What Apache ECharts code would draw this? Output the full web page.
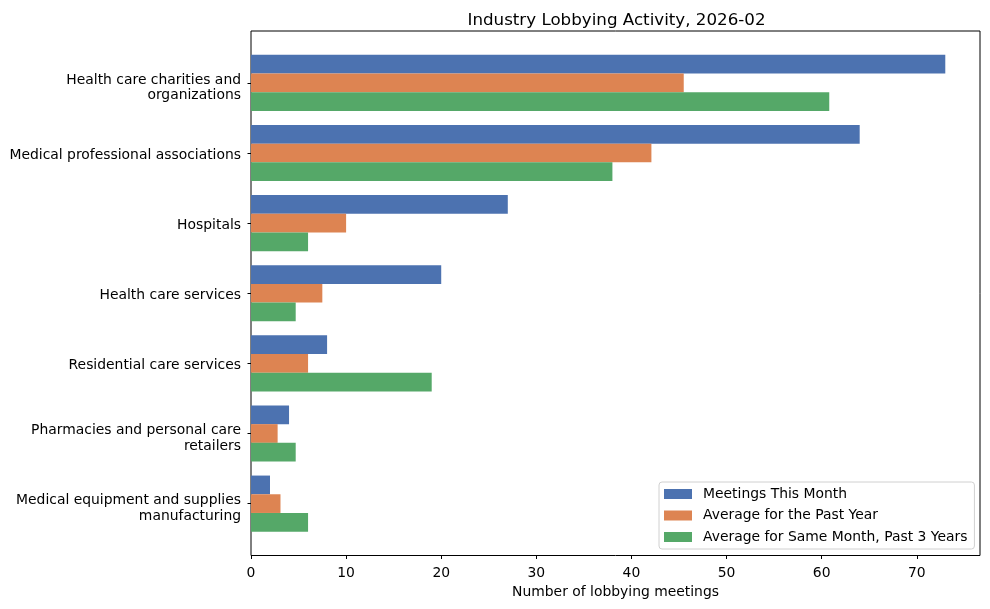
<!DOCTYPE html>
<html>
<head>
<meta charset="utf-8">
<script src="https://cdn.jsdelivr.net/npm/echarts@6/dist/echarts.min.js"></script>
<style>html,body{margin:0;padding:0;background:#fff}#c{width:990px;height:609px}</style>
</head>
<body>
<div id="c"></div>
<script>
const categories = [
  "Health care charities and\norganizations",
  "Medical professional associations",
  "Hospitals",
  "Health care services",
  "Residential care services",
  "Pharmacies and personal care\nretailers",
  "Medical equipment and supplies\nmanufacturing"
];
const meetingsThisMonth = [73, 64, 27, 20, 8, 4, 2];
const avgPastYear = [45.5, 42.1, 10, 7.5, 6, 2.8, 3.1];
const avgSameMonth3y = [60.8, 38, 6, 4.7, 19, 4.7, 6];
const seriesNames = ["Meetings This Month", "Average for the Past Year", "Average for Same Month, Past 3 Years"];
const colors = ["#4C72B0", "#DD8452", "#55A868"];
const xMax = 76.65;

const font = "DejaVu Sans";
const fs = 13.9;
const chart = echarts.init(document.getElementById('c'), null, {renderer: 'canvas'});
const plotLeft = 251, plotTop = 31, plotW = 729, plotH = 524.5;
const band = plotH / 7.48;
const innerTop = plotTop + 0.24 * band;
const innerH = 7 * band;

const mk = (name, data, i) => ({
  name: name, type: 'bar', xAxisIndex: 1, yAxisIndex: 1,
  data: data, barGap: '0%', barCategoryGap: '20%',
  itemStyle: {color: colors[i]}, emphasis: {disabled: true}
});

const labelAxis = (gi, multi) => ({
  type: 'category', gridIndex: gi, data: categories, inverse: true,
  axisLine: {show: false}, splitLine: {show: false}, axisTick: {show: false},
  axisLabel: {fontFamily: font, fontSize: fs, color: '#000', margin: 10, lineHeight: 15.5, align: 'right',
    formatter: v => (v.indexOf('\n') >= 0) === multi ? v : ''}
});

chart.setOption({
  animation: false,
  textStyle: {fontFamily: font},
  title: {
    text: "Industry Lobbying Activity, 2026-02",
    left: plotLeft + plotW / 2 - 4, top: 7, textAlign: 'center',
    textStyle: {fontFamily: font, fontSize: 16.7, fontWeight: 'normal', color: '#000'}
  },
  legend: {
    orient: 'vertical', left: 659, top: 482,
    data: seriesNames,
    itemWidth: 28, itemHeight: 10, itemGap: 7.5,
    padding: [5, 7, 5, 5],
    borderColor: '#d0d0d0', borderWidth: 1, borderRadius: 3,
    backgroundColor: 'rgba(255,255,255,0.8)',
    icon: 'rect',
    textStyle: {fontFamily: font, fontSize: fs, color: '#000', padding: [0, 0, 0, 6], lineHeight: 14}
  },
  grid: [
    {left: plotLeft, top: plotTop, width: plotW, height: plotH, show: true, borderColor: '#000', borderWidth: 1, backgroundColor: 'transparent', containLabel: false},
    {left: plotLeft, top: innerTop, width: plotW, height: innerH, containLabel: false},
    {left: plotLeft, top: innerTop + 2, width: plotW, height: innerH, containLabel: false},
    {left: plotLeft, top: innerTop + 5, width: plotW, height: innerH, containLabel: false}
  ],
  xAxis: [
    {type: 'value', gridIndex: 0, min: 0, max: xMax, interval: 10,
     axisLine: {show: false}, splitLine: {show: false},
     axisTick: {show: true, length: 3.5, lineStyle: {color: '#000', width: 1}},
     axisLabel: {fontFamily: font, fontSize: fs, color: '#000', margin: 11, showMaxLabel: false},
     name: "Number of lobbying meetings", nameLocation: 'middle', nameGap: 30,
     nameTextStyle: {fontFamily: font, fontSize: fs, color: '#000'}},
    {type: 'value', gridIndex: 1, min: 0, max: xMax, show: false},
    {type: 'value', gridIndex: 2, min: 0, max: xMax, show: false},
    {type: 'value', gridIndex: 3, min: 0, max: xMax, show: false}
  ],
  yAxis: [
    {type: 'value', gridIndex: 0, show: false},
    {type: 'category', gridIndex: 1, data: categories, inverse: true,
     axisLine: {show: false}, splitLine: {show: false},
     axisTick: {show: true, alignWithLabel: true, length: 3.5, lineStyle: {color: '#000', width: 1}},
     axisLabel: {show: false}},
    labelAxis(2, false),
    labelAxis(3, true)
  ],
  series: [
    mk(seriesNames[0], meetingsThisMonth, 0),
    mk(seriesNames[1], avgPastYear, 1),
    mk(seriesNames[2], avgSameMonth3y, 2)
  ]
});
</script>
</body>
</html>
